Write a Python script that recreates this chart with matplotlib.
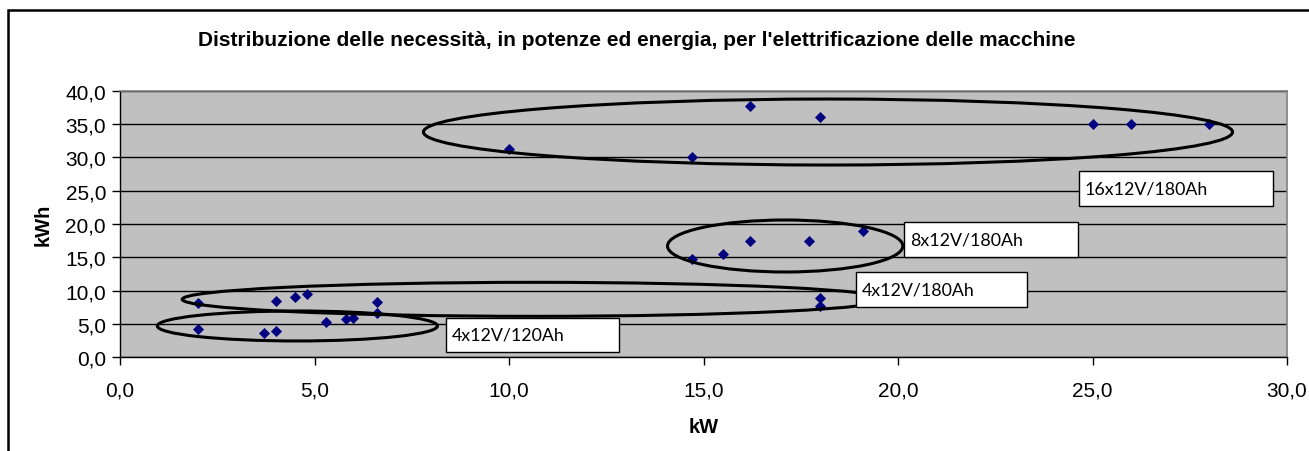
import matplotlib
matplotlib.use("Agg")
import matplotlib.pyplot as plt
from matplotlib.patches import Ellipse, Rectangle
from matplotlib.ticker import FuncFormatter, MultipleLocator

# power (kW) vs energy (kWh) per machine
kw = [2.0, 2.0, 3.7, 4.0, 4.0, 4.5, 4.8, 5.3, 5.8, 6.0, 6.6, 6.6,
      10.0, 14.7, 16.2, 18.0, 25.0, 26.0, 28.0,
      14.7, 15.5, 16.2, 17.7, 19.1, 18.0, 18.0]
kwh = [8.1, 4.3, 3.6, 3.9, 8.5, 9.1, 9.5, 5.3, 5.7, 5.9, 8.3, 6.6,
       31.3, 30.0, 37.7, 36.0, 35.0, 35.0, 35.0,
       14.7, 15.5, 17.5, 17.5, 19.0, 8.9, 7.7]

# battery groups: ellipse (cx, cy, w, h) and label box (x0, y0, x1, y1) in data units
group_labels = ["16x12V/180Ah", "8x12V/180Ah", "4x12V/180Ah", "4x12V/120Ah"]
group_ellipses = [(18.2, 33.8, 20.8, 9.9), (17.1, 16.7, 6.05, 7.8),
                  (10.65, 8.7, 18.1, 5.1), (4.56, 4.7, 7.2, 4.5)]
group_boxes = [(24.65, 22.75, 29.65, 27.92), (20.15, 15.08, 24.63, 20.26),
               (18.91, 7.62, 23.32, 12.83), (8.38, 0.86, 12.84, 5.97)]

title = "Distribuzione delle necessità, in potenze ed energia, per l'elettrificazione delle macchine"

W, H = 1309, 452
fig = plt.figure(figsize=(W / 100, H / 100), dpi=100)
ax = fig.add_axes([120 / W, 1 - 358.3 / H, 1167 / W, 266.6 / H])
ax.set_facecolor("#C0C0C0")

sans = ["Liberation Sans", "DejaVu Sans"]

ax.set_xlim(0, 30)
ax.set_ylim(0, 40)
ax.xaxis.set_major_locator(MultipleLocator(5))
ax.yaxis.set_major_locator(MultipleLocator(5))
fmt = FuncFormatter(lambda v, _: f"{v:.1f}".replace(".", ","))
ax.xaxis.set_major_formatter(fmt)
ax.yaxis.set_major_formatter(fmt)
ax.tick_params(direction="out", length=6, width=1, color="black", labelsize=15, pad=4)
ax.tick_params(axis="x", pad=11)
for lab in ax.get_xticklabels() + ax.get_yticklabels():
    lab.set_family(sans)

ax.yaxis.grid(True, color="black", linewidth=1)
ax.set_axisbelow(True)
for side in ["top", "right"]:
    ax.spines[side].set_color("#808080")
    ax.spines[side].set_linewidth(1.2)
for side in ["left", "bottom"]:
    ax.spines[side].set_color("black")
    ax.spines[side].set_linewidth(1)

ax.scatter(kw, kwh, marker="D", s=32, color="#000080", zorder=3, linewidths=0)

for (cx, cy, w, h) in group_ellipses:
    ax.add_patch(Ellipse((cx, cy), w, h, fill=False, edgecolor="black",
                         linewidth=2.2, zorder=4))

for label, (x0, y0, x1, y1) in zip(group_labels, group_boxes):
    ax.add_patch(Rectangle((x0, y0), x1 - x0, y1 - y0, facecolor="white",
                           edgecolor="black", linewidth=1, zorder=5))
    ax.text(x0 + 0.15, (y0 + y1) / 2, label, ha="left", va="center",
            fontsize=12.8, family=["Lato", "DejaVu Sans"], zorder=6)

ax.set_xlabel("kW", fontsize=14.5, fontweight="bold", family=sans, labelpad=12)
ax.set_ylabel("kWh", fontsize=14.5, fontweight="bold", family=sans, labelpad=9)

fig.text(637 / W, 1 - 40 / H, title, ha="center", va="center", fontsize=15,
         fontweight="bold", family=sans)

# outer chart frame (only left and top edges visible in the crop)
fig.add_artist(Rectangle((8 / W, -0.1), 1.2, 1.1 - 11 / H, transform=fig.transFigure,
                         fill=False, edgecolor="black", linewidth=1.8, clip_on=False))

fig.savefig("out.png", dpi=100)
